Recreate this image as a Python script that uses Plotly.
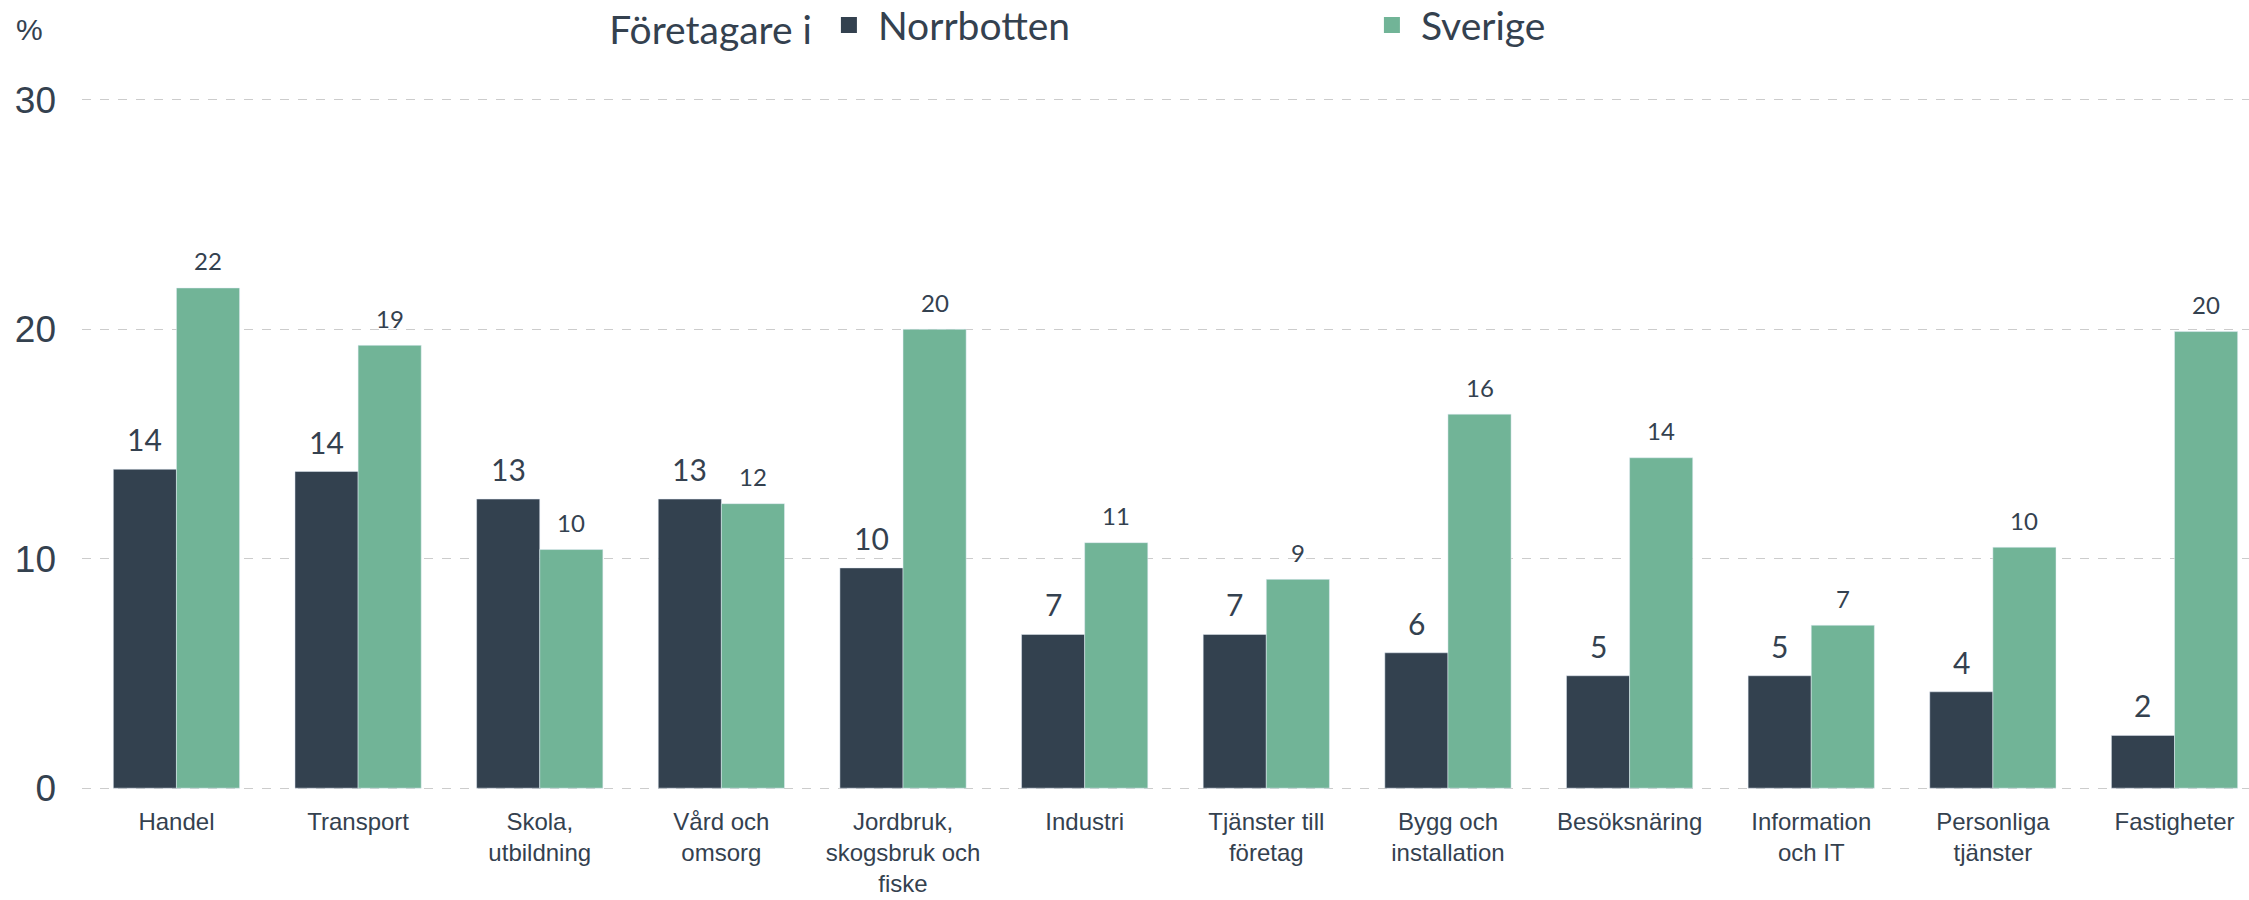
import plotly.graph_objects as go

categories = ["Handel", "Transport", "Skola,<br>utbildning", "Vård och<br>omsorg",
              "Jordbruk,<br>skogsbruk och<br>fiske", "Industri", "Tjänster till<br>företag",
              "Bygg och<br>installation", "Besöksnäring", "Information<br>och IT",
              "Personliga<br>tjänster", "Fastigheter"]
norrbotten = [13.9, 13.8, 12.6, 12.6, 9.6, 6.7, 6.7, 5.9, 4.9, 4.9, 4.2, 2.3]
sverige = [21.8, 19.3, 10.4, 12.4, 20.0, 10.7, 9.1, 16.3, 14.4, 7.1, 10.5, 19.9]
y_ticks = [0, 10, 20, 30]

DARK = "#33414f"
GREEN = "#71b497"
TEXT = "#34414f"
SANS = "Liberation Sans, Arial, sans-serif"
LABEL = "Lato, Inter, sans-serif"

W, H = 2249, 900
ML, MR, MT, MB = 82, 0, 98, 110
X_RANGE = [-0.52, 11.41]
Y_RANGE = [-0.08, 30.08]
BARGAP = 0.305

fig = go.Figure()
fig.add_trace(go.Bar(x=categories, y=norrbotten, name="Norrbotten",
                     marker_color=DARK, showlegend=False))
fig.add_trace(go.Bar(x=categories, y=sverige, name="Sverige",
                     marker_color=GREEN, showlegend=False))
# legend entries
for nm, col in [("Norrbotten", DARK), ("Sverige", GREEN)]:
    fig.add_trace(go.Scatter(x=[None], y=[None], mode="markers", name=nm,
                             marker=dict(symbol="square", size=16, color=col)))

# value labels above bars (annotations in data coordinates)
px_per_unit = (W - ML - MR) / (X_RANGE[1] - X_RANGE[0])
half_bar_px = (1 - BARGAP) / 2 / 2 * px_per_unit
annotations = []
for cat, v in zip(categories, norrbotten):
    annotations.append(dict(x=cat, y=v, xref="x", yref="y", text=f"{round(v):d}",
                            showarrow=False, xshift=-half_bar_px, yshift=30,
                            xanchor="center", yanchor="middle",
                            font=dict(family=LABEL, size=30, color=TEXT)))
for cat, v in zip(categories, sverige):
    annotations.append(dict(x=cat, y=v, xref="x", yref="y", text=f"{round(v):d}",
                            showarrow=False, xshift=half_bar_px, yshift=27,
                            xanchor="center", yanchor="middle",
                            font=dict(family=LABEL, size=24, color=TEXT)))
annotations.append(dict(text="%", xref="paper", yref="paper", x=0,
                        y=1 + (MT - 29) / (H - MT - MB),
                        xshift=-ML + 14, xanchor="left", yanchor="middle",
                        showarrow=False, font=dict(family=SANS, size=30, color=TEXT)))

fig.update_layout(
    width=W, height=H,
    paper_bgcolor="white", plot_bgcolor="white",
    margin=dict(l=ML, r=MR, t=MT, b=MB, autoexpand=False),
    barmode="group", bargap=BARGAP, bargroupgap=0,
    font=dict(family=SANS, color=TEXT),
    legend=dict(
        orientation="h", xref="container", yref="container",
        x=0.27, y=0.972, xanchor="left", yanchor="middle",
        title=dict(text="Företagare i", font=dict(family=LABEL, size=39, color=TEXT)),
        font=dict(family=LABEL, size=39, color=TEXT),
        itemwidth=48,
        entrywidth=480, bgcolor="rgba(0,0,0,0)"),
    annotations=annotations,
)

fig.update_xaxes(range=X_RANGE, showgrid=False, showline=False, automargin=False,
                 ticks="", ticklabelstandoff=15,
                 tickfont=dict(family=SANS, size=24, color=TEXT))
fig.update_yaxes(range=Y_RANGE, tickvals=y_ticks, showgrid=True,
                 gridcolor="#cccccc", griddash="dash", gridwidth=1, automargin=False,
                 zeroline=False, showline=False, ticks="",
                 ticklabelstandoff=25,
                 tickfont=dict(family=SANS, size=37, color=TEXT))

fig.write_html("out.html", config={"displayModeBar": False},
               post_script="document.body.style.margin='0';"
                           "document.body.style.padding='0';")
